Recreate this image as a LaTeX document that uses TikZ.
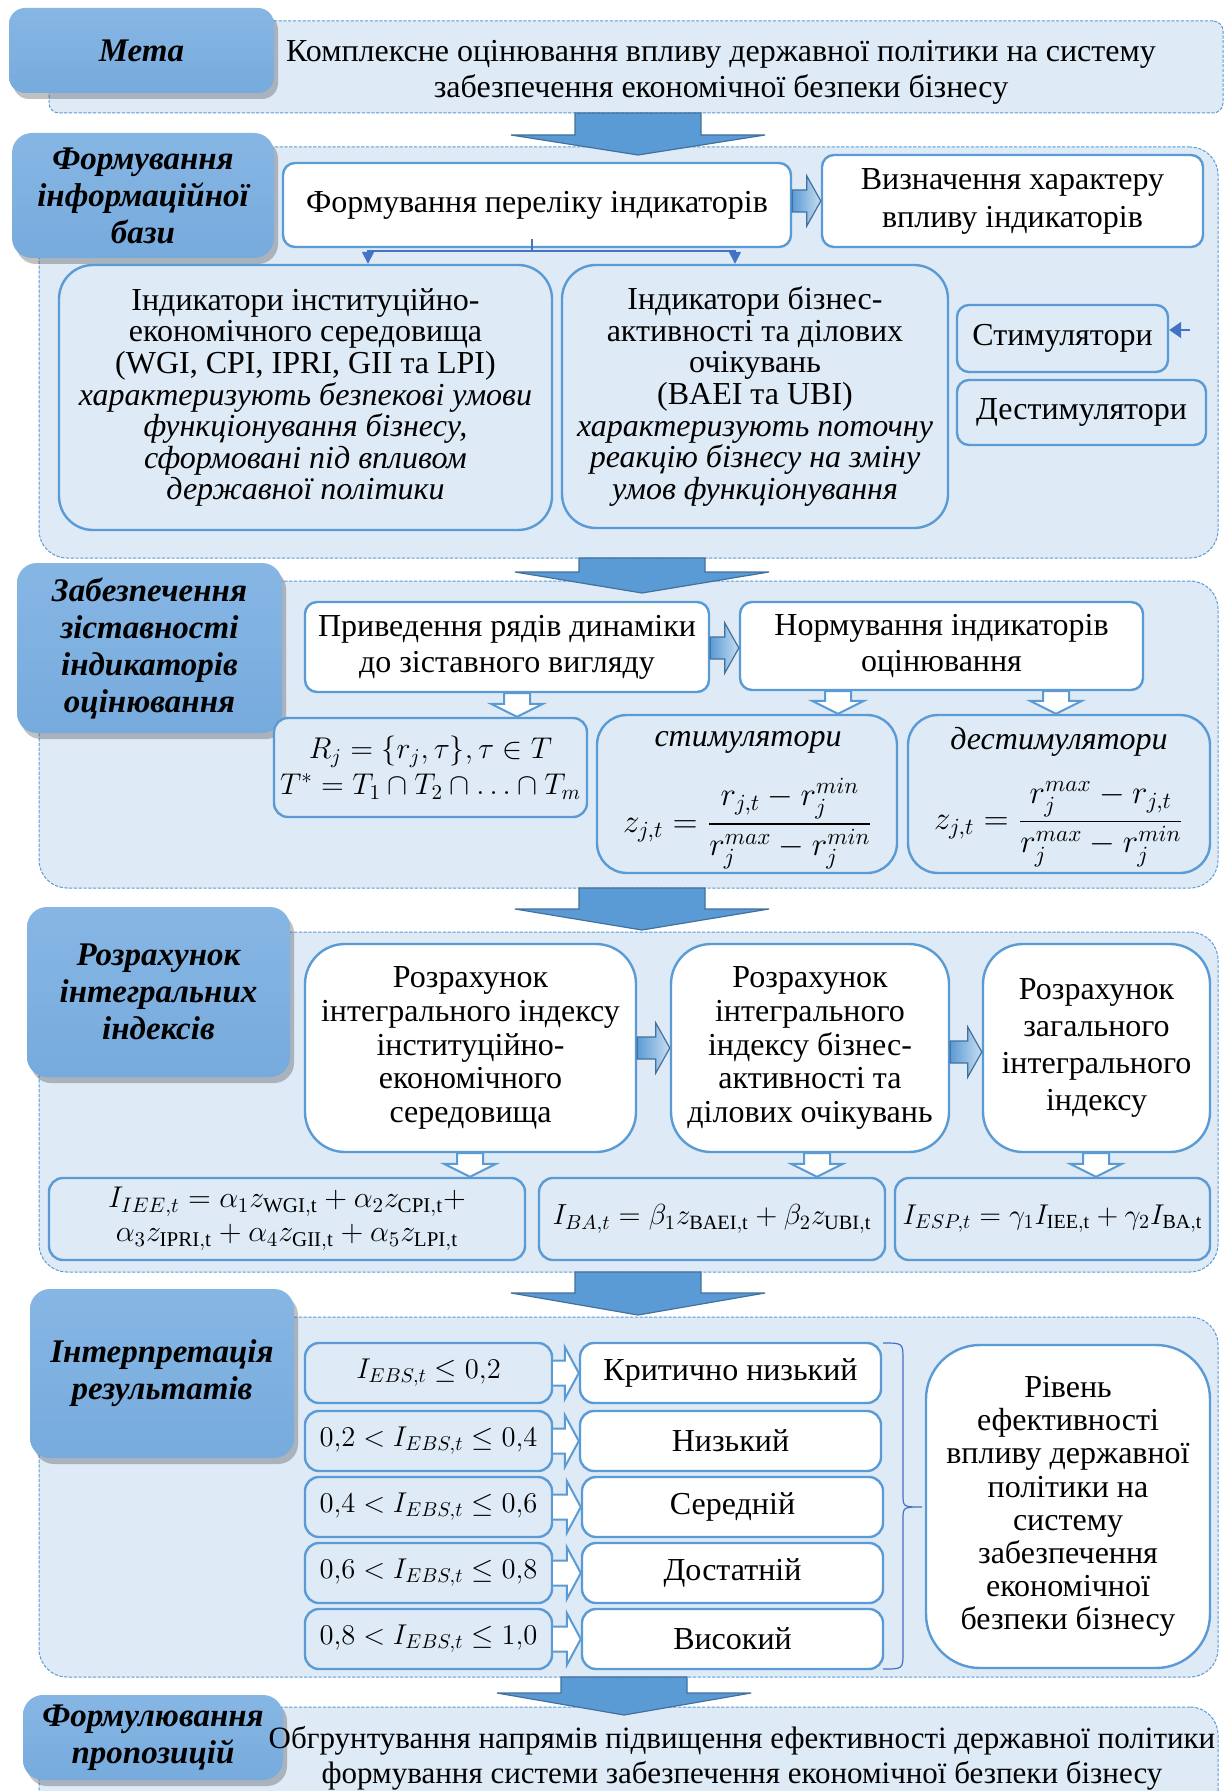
\RequirePackage{fix-cm}
\documentclass[tikz,border=0pt]{standalone}
\usepackage{amsmath}
\usepackage{fontspec}
\setmainfont{Liberation Serif}
\usetikzlibrary{arrows.meta,calc,shadows}
\definecolor{bgblue}{HTML}{DEEAF6}
\definecolor{bord}{HTML}{5B9BD5}
\definecolor{labtop}{HTML}{86B6E4}
\definecolor{labbot}{HTML}{77ABDD}
\definecolor{darkbord}{HTML}{41719C}
\definecolor{linkblue}{HTML}{4472C4}
\definecolor{garl}{HTML}{5B9BD5}
\definecolor{garr}{HTML}{C9DDF1}

\newcommand\mkbox[7]{\node[#1, minimum width={(#5-#3)*0.5pt}, minimum height={(#6-#4)*0.5pt}] (#2) at ({(#3+#5)/2},{(#4+#6)/2}) {#7};}
% big block arrow: cx, ytop, ybase, ytip
\newcommand\bigarr[4]{\draw[bigarrow] ({#1-63},#2) -- ({#1+63},#2) -- ({#1+63},#3) -- ({#1+127},#3) -- (#1,#4) -- ({#1-127},#3) -- ({#1-63},#3) -- cycle;}
% gradient right arrow between two nodes at height y
\newcommand\rarr[3]{%
  \coordinate (ay) at (0,#3);
  \path (#1.east |- ay) coordinate (as) (#2.west |- ay) coordinate (ae);
  \draw[garrow] ($(as)+(0,-11)$) -- ($(ae)+(-14,-11)$) -- ($(ae)+(-14,-25)$) -- (ae) -- ($(ae)+(-14,25)$) -- ($(ae)+(-14,11)$) -- ($(as)+(0,11)$) -- cycle;}
% hollow down arrow between two nodes at x
\newcommand\darr[3]{%
  \coordinate (ax) at (#3,0);
  \path (ax |- #1.south) coordinate (as) (ax |- #2.north) coordinate (ae);
  \draw[harrow] ($(as)+(-13,0)$) -- ($(as)+(13,0)$) -- ($(ae)+(13,-13)$) -- ($(ae)+(26,-13)$) -- (ae) -- ($(ae)+(-26,-13)$) -- ($(ae)+(-13,-13)$) -- cycle;}
% hollow right arrow between two nodes
\newcommand\harr[2]{%
  \path (#1.east) coordinate (as) (#2.west |- #1.east) coordinate (ae);
  \draw[harrow] ($(as)+(0,-12.5)$) -- ($(ae)+(-14,-12.5)$) -- ($(ae)+(-14,-26)$) -- (ae) -- ($(ae)+(-14,26)$) -- ($(ae)+(-14,12.5)$) -- ($(as)+(0,12.5)$);}

\tikzset{
  cont/.style={draw=bord, line width=0.5pt, dash pattern=on 1.6pt off 0.8pt, fill=bgblue, rounded corners=14pt, inner sep=0pt},
  lab/.style={top color=labtop, bottom color=labbot, draw=none, rounded corners=10pt, inner sep=0pt, align=center,
    font=\fontsize{16.5}{18.5}\selectfont\bfseries\itshape,
    drop shadow={shadow xshift=2pt, shadow yshift=-3pt, opacity=0.3, fill=black!80}},
  wbox/.style={draw=bord, line width=1.2pt, fill=white, rounded corners=6pt, inner sep=0pt, align=center, font=\fontsize{16}{18}\selectfont},
  lbox/.style={wbox, fill=bgblue},
  txt/.style={inner sep=0pt, align=center, font=\fontsize{16}{18}\selectfont},
  bigarrow/.style={draw=darkbord, fill=bord, line width=0.6pt},
  garrow/.style={draw=darkbord, line width=0.6pt, left color=garl, right color=garr},
  harrow/.style={draw=bord, line width=1pt, fill=white},
  link/.style={draw=linkblue, line width=0.8pt},
  tri/.style={link, -{Triangle[width=6pt,length=6pt]}},
}

\begin{document}
\begin{tikzpicture}[x=0.5pt, y=-0.5pt]
\useasboundingbox (0,0) rectangle (1228,1791);
\clip (0,0) rectangle (1228,1791);
\fill[white] (0,0) rectangle (1228,1791);

% containers
\mkbox{cont, rounded corners=5pt}{sec1}{49}{21}{1223}{113}{}
\mkbox{cont}{sec2}{39}{147}{1218}{558}{}
\mkbox{cont}{sec3}{39}{581}{1218}{888}{}
\mkbox{cont}{sec4}{39}{932}{1218}{1272}{}
\mkbox{cont}{sec5}{39}{1317}{1218}{1677}{}
\mkbox{cont}{sec6}{39}{1707}{1218}{1850}{}

% big arrows between sections
\bigarr{638}{113}{135}{155}
\bigarr{642}{558}{572}{593}
\bigarr{642}{888}{909}{930}
\bigarr{638}{1272}{1293}{1315}
\bigarr{624}{1677}{1693}{1715}

% labels
\mkbox{lab, rounded corners=8pt}{lab1}{9}{8}{274}{93}{Мета}
\mkbox{lab}{lab2}{12}{133}{274}{258}{Формування\\інформаційної\\бази}
\mkbox{lab}{lab3}{17}{563}{282}{733}{Забезпечення\\зіставності\\індикаторів\\оцінювання}
\mkbox{lab}{lab4}{27}{907}{290}{1077}{Розрахунок\\інтегральних\\індексів}
\mkbox{lab}{lab5}{30}{1289}{294}{1458}{Інтерпретація\\результатів}
\mkbox{lab}{lab6}{23}{1695}{283}{1780}{Формулювання\\пропозицій}

% section 1
\node[txt] (t1) at (721,72) {Комплексне оцінювання впливу державної політики на систему\\забезпечення економічної безпеки бізнесу};

% section 2
\mkbox{wbox}{list}{283}{163}{791}{247}{Формування переліку індикаторів}
\mkbox{wbox, font=\fontsize{16}{19}\selectfont}{char}{822}{155}{1203}{247}{Визначення характеру\\впливу індикаторів}
\rarr{list}{char}{201}
\mkbox{lbox, rounded corners=17pt, font=\fontsize{16}{15.8}\selectfont}{ind1}{59}{265}{552}{530}{Індикатори інституційно-\\економічного середовища\\(WGI, CPI, IPRI, GII та LPI)\\\textit{характеризують безпекові умови}\\\textit{функціонування бізнесу,}\\\textit{сформовані під впливом}\\\textit{державної політики}}
\mkbox{lbox, rounded corners=17pt, font=\fontsize{16}{15.8}\selectfont}{ind2}{562}{265}{948}{528}{Індикатори бізнес-\\активності та ділових\\очікувань\\(BAEI та UBI)\\\textit{характеризують поточну}\\\textit{реакцію бізнесу на зміну}\\\textit{умов функціонування}}
\mkbox{lbox}{stim}{957}{305}{1168}{372}{Стимулятори}
\mkbox{lbox}{dest}{957}{380}{1206}{445}{Дестимулятори}
\coordinate (fk) at (532,251);
\coordinate (fl) at (368,251);
\coordinate (fr) at (735,251);
\draw[link] ($(list.south -| fk)+(0,-9)$) -- (fk);
\draw[tri] (fk) -- (fl) -- (fl |- ind1.north);
\draw[tri] (fk) -- (fr) -- (fr |- ind2.north);
\coordinate (sa) at (1190,330);
\draw[link, -{Triangle[width=8pt,length=6pt]}] (sa) -- (sa -| stim.east);

% section 3
\mkbox{wbox}{pr}{305}{602}{709}{692}{Приведення рядів динаміки\\до зіставного вигляду}
\mkbox{wbox}{norm}{740}{602}{1143}{690}{Нормування індикаторів\\оцінювання}
\rarr{pr}{norm}{648}
\mkbox{lbox, rounded corners=7pt, font=\fontsize{15}{18}\selectfont}{fR}{274}{718}{587}{817}{$R_j=\{r_j,\tau\},\tau\in T$\\$T^{*}=T_1\cap T_2\cap{\ldots}\cap T_m$}
\mkbox{lbox, rounded corners=15pt}{fS}{597}{715}{897}{873}{}
\mkbox{lbox, rounded corners=15pt}{fD}{908}{715}{1210}{873}{}
\node[txt] (fSt) at (748,742) {\textit{стимулятори}};
\node[txt, font=\fontsize{16.5}{18}\selectfont] (fSf) at (748,824) {$\displaystyle z_{j,t}=\frac{r_{j,t}-r_j^{min}}{r_j^{max}-r_j^{min}}$};
\node[txt] (fDt) at (1059,742) {\textit{дестимулятори}};
\node[txt, font=\fontsize{16.5}{18}\selectfont] (fDf) at (1059,824) {$\displaystyle z_{j,t}=\frac{r_j^{max}-r_{j,t}}{r_j^{max}-r_j^{min}}$};
\darr{pr}{fR}{517}
\darr{norm}{fS}{838}
\darr{norm}{fD}{1056}

% section 4
\mkbox{wbox, rounded corners=20pt, font=\fontsize{16}{16.8}\selectfont}{r1}{305}{944}{636}{1152}{Розрахунок\\інтегрального індексу\\інституційно-\\економічного\\середовища}
\mkbox{wbox, rounded corners=20pt, font=\fontsize{16}{16.8}\selectfont}{r2}{671}{944}{949}{1152}{Розрахунок\\інтегрального\\індексу бізнес-\\активності та\\ділових очікувань}
\mkbox{wbox, rounded corners=20pt, font=\fontsize{16}{18.6}\selectfont}{r3}{983}{944}{1210}{1152}{Розрахунок\\загального\\інтегрального\\індексу}
\rarr{r1}{r2}{1048}
\rarr{r2}{r3}{1052}
\mkbox{lbox, rounded corners=7pt, font=\fontsize{15}{17}\selectfont}{fI}{49}{1178}{525}{1260}{$I_{IEE,t}=\alpha_1 z_{\mathrm{WGI,t}}+\alpha_2 z_{\mathrm{CPI,t}}+$\\$\alpha_3 z_{\mathrm{IPRI,t}}+\alpha_4 z_{\mathrm{GII,t}}+\alpha_5 z_{\mathrm{LPI,t}}$}
\mkbox{lbox, rounded corners=7pt, font=\fontsize{14.5}{17}\selectfont}{fB}{539}{1178}{885}{1260}{$I_{BA,t}=\beta_1 z_{\mathrm{BAEI,t}}+\beta_2 z_{\mathrm{UBI,t}}$}
\mkbox{lbox, rounded corners=7pt, font=\fontsize{14.3}{17}\selectfont}{fE}{895}{1178}{1210}{1260}{$I_{ESP,t}=\gamma_1 I_{\mathrm{IEE,t}}+\gamma_2 I_{\mathrm{BA,t}}$}
\darr{r1}{fI}{470}
\darr{r2}{fB}{817}
\darr{r3}{fE}{1096}

% section 5
\tikzset{cond/.style={lbox, rounded corners=7pt, font=\fontsize{14.3}{17}\selectfont}}
\mkbox{cond}{c1}{305}{1343}{552}{1403}{$I_{EBS,t}\le 0{,}2$}
\mkbox{cond}{c2}{305}{1411}{552}{1471}{$0{,}2<I_{EBS,t}\le 0{,}4$}
\mkbox{cond}{c3}{305}{1477}{552}{1537}{$0{,}4<I_{EBS,t}\le 0{,}6$}
\mkbox{cond}{c4}{305}{1543}{552}{1603}{$0{,}6<I_{EBS,t}\le 0{,}8$}
\mkbox{cond}{c5}{305}{1609}{552}{1669}{$0{,}8<I_{EBS,t}\le 1{,}0$}
\mkbox{wbox, rounded corners=7pt}{l1}{580}{1343}{881}{1403}{Критично низький}
\mkbox{wbox, rounded corners=7pt}{l2}{580}{1411}{881}{1471}{Низький}
\mkbox{wbox, rounded corners=7pt}{l3}{582}{1477}{883}{1537}{Середній}
\mkbox{wbox, rounded corners=7pt}{l4}{582}{1543}{883}{1603}{Достатній}
\mkbox{wbox, rounded corners=7pt}{l5}{582}{1609}{883}{1669}{Високий}
\harr{c1}{l1}
\harr{c2}{l2}
\harr{c3}{l3}
\harr{c4}{l4}
\harr{c5}{l5}
\draw[link, line width=0.6pt] (883,1343) .. controls (903,1343) .. (903,1360) -- (903,1494) .. controls (903,1507) .. (922,1507) .. controls (903,1507) .. (903,1520) -- (903,1652) .. controls (903,1669) .. (883,1669);
\mkbox{wbox, rounded corners=27pt, font=\fontsize{16}{16.6}\selectfont}{riv}{926}{1345}{1210}{1668}{Рівень\\ефективності\\впливу державної\\політики на\\систему\\забезпечення\\економічної\\безпеки бізнесу}

% section 6
\node[txt, font=\fontsize{15.5}{17.5}\selectfont] (t6) at (742,1758) {Обгрунтування напрямів підвищення ефективності державної політики\\формування системи забезпечення економічної безпеки бізнесу};
\end{tikzpicture}
\end{document}
